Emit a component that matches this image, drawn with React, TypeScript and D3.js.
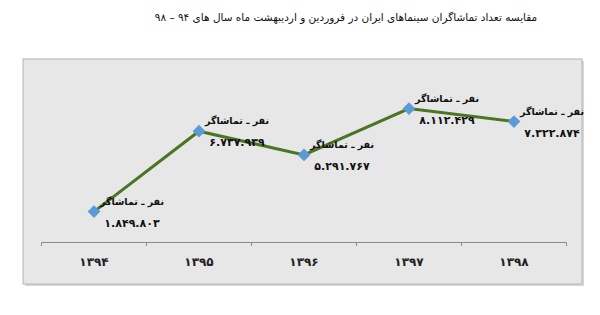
import React from "react";
import * as d3 from "d3";

const years = ["۱۳۹۴", "۱۳۹۵", "۱۳۹۶", "۱۳۹۷", "۱۳۹۸"];
const values = [1849803, 6737939, 5291767, 8112429, 7322874];
const unitLabel = "نفر ـ تماشاگر";
const title = "مقایسه تعداد تماشاگران سینماهای ایران در فروردین و اردیبهشت ماه سال های ۹۴ – ۹۸";

const W = 600, H = 315;
const persianDigits = "۰۱۲۳۴۵۶۷۸۹";
const fmt = (v: number) =>
  d3.format(",")(v).replace(/,/g, ".").replace(/[0-9]/g, (c) => persianDigits[+c]);

export default function App() {
  const x = d3.scaleBand<string>().domain(years).range([41.5, 566.5]);
  const y = d3.scaleLinear().domain([0, 9000000]).range([242, 94]);
  const cx = (i: number) => (x(years[i]) as number) + x.bandwidth() / 2;
  const line = d3
    .line<number>()
    .x((_, i) => cx(i))
    .y((d) => y(d));
  const ticks = [...years.map((d) => x(d) as number), 566.5];
  const font = "DejaVu Sans";
  return (
    <div>
      <style>{`body{margin:0}`}</style>
      <svg width={W} height={H} style={{ display: "block", background: "#fff" }}>
        <text
          x={346}
          y={21}
          textAnchor="middle"
          direction="rtl"
          fontFamily={font}
          fontSize={10.5}
          fill="#111"
        >
          {title}
        </text>
        <rect x={25} y={61} width={559} height={225} fill="#d8d8d8" />
        <rect x={23} y={59} width={559} height={225} fill="#e7e7e7" stroke="#b4b4b4" strokeWidth={1} />
        <line x1={41.5} x2={566.5} y1={242.5} y2={242.5} stroke="#8c8c8c" strokeWidth={1} />
        {ticks.map((t, i) => (
          <line key={i} x1={t} x2={t} y1={242.5} y2={246} stroke="#8c8c8c" strokeWidth={1} />
        ))}
        {years.map((d, i) => (
          <text
            key={d}
            x={cx(i)}
            y={266}
            textAnchor="middle"
            fontFamily={font}
            fontWeight="bold"
            fontSize={12}
            fill="#222"
          >
            {d}
          </text>
        ))}
        <path d={line(values) as string} fill="none" stroke="#4a7524" strokeWidth={3} />
        {values.map((v, i) => (
          <rect
            key={i}
            x={cx(i) - 4.5}
            y={y(v) - 4.5}
            width={9}
            height={9}
            fill="#5b9bd5"
            transform={`rotate(45 ${cx(i)} ${y(v)})`}
          />
        ))}
        {values.map((v, i) => (
          <g key={"l" + i} fontFamily={font} fontWeight="bold" fill="#111" textAnchor="middle">
            <text x={cx(i) + 38} y={y(v) - 7} fontSize={9.5} direction="rtl">
              {unitLabel}
            </text>
            <text x={cx(i) + 38} y={y(v) + 15} fontSize={11}>
              {fmt(v)}
            </text>
          </g>
        ))}
      </svg>
    </div>
  );
}
